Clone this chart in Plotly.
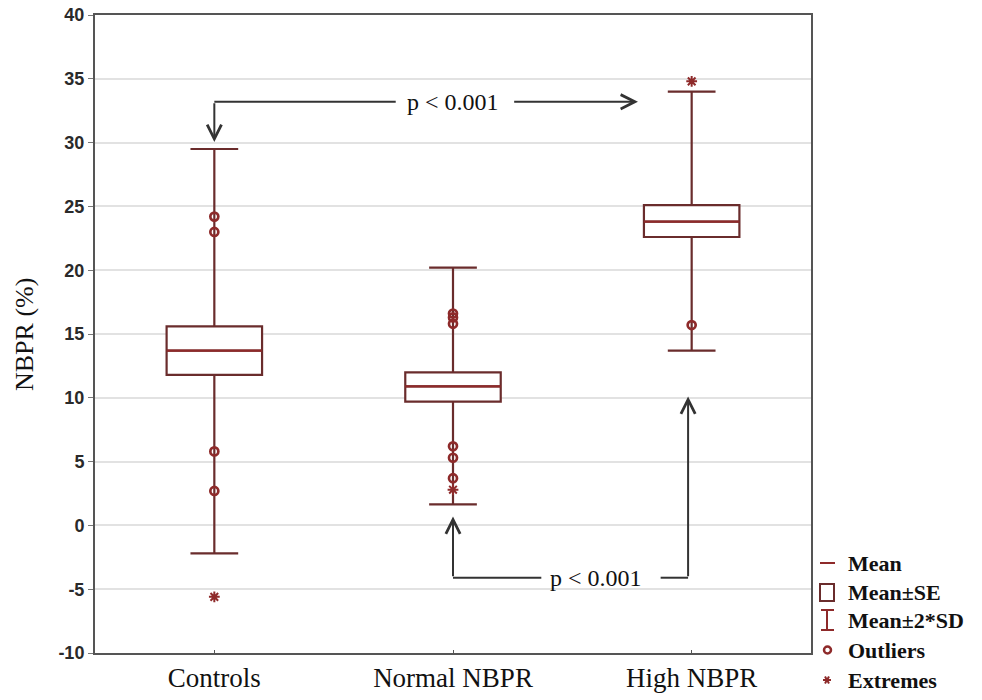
import plotly.graph_objects as go

# ---------------- data ----------------
categories = ["Controls", "Normal NBPR", "High NBPR"]
means = [13.7, 10.9, 23.8]
se_low = [11.8, 9.7, 22.6]
se_high = [15.6, 12.0, 25.1]
sd2_low = [-2.2, 1.65, 13.7]
sd2_high = [29.5, 20.2, 34.0]

outlier_x = ["Controls", "Controls", "Controls", "Controls",
             "Normal NBPR", "Normal NBPR", "Normal NBPR",
             "Normal NBPR", "Normal NBPR", "Normal NBPR",
             "High NBPR"]
outlier_y = [24.2, 23.0, 5.8, 2.7,
             16.6, 16.3, 15.8, 6.2, 5.3, 3.7,
             15.7]
extreme_x = ["Controls", "Normal NBPR", "High NBPR"]
extreme_y = [-5.6, 2.8, 34.8]

y_ticks = [-10, -5, 0, 5, 10, 15, 20, 25, 30, 35, 40]
y_title = "NBPR (%)"
p_label = "p < 0.001"

# ---------------- style ----------------
RED = "#8e2a2a"
BOX = "#6a2c2c"
ARROW = "#333333"
BOX_W = 0.4

# plot area in pixels (for legend placement)
L, R, T, B = 95, 811, 15, 653


def px(x):
    return (x - L) / (R - L)


def py(y):
    return (B - y) / (B - T)


idx = {c: i for i, c in enumerate(categories)}
cat_pos = [idx[c] for c in categories]

fig = go.Figure()

# box: mean +/- SE, whiskers mean +/- 2*SD with caps
fig.add_trace(go.Box(
    x=cat_pos, q1=se_low, median=means, q3=se_high,
    lowerfence=sd2_low, upperfence=sd2_high,
    width=BOX_W, whiskerwidth=0.5, boxpoints=False,
    fillcolor="white", line=dict(color=BOX, width=2.2),
    showlegend=False, hoverinfo="skip"))

# mean lines (red) across each box
mx, my = [], []
for i, m in zip(cat_pos, means):
    mx += [i - BOX_W / 2, i + BOX_W / 2, None]
    my += [m, m, None]
fig.add_trace(go.Scatter(x=mx, y=my, mode="lines",
                         line=dict(color=RED, width=2.2),
                         showlegend=False, hoverinfo="skip"))

# outliers
fig.add_trace(go.Scatter(
    x=[idx[c] for c in outlier_x], y=outlier_y, mode="markers",
    marker=dict(symbol="circle-open", size=8, color=RED,
                line=dict(width=2.7, color=RED)),
    showlegend=False, hoverinfo="skip"))

# extremes
fig.add_trace(go.Scatter(
    x=[idx[c] for c in extreme_x], y=extreme_y, mode="markers",
    marker=dict(symbol="asterisk-open", size=9, color=RED,
                line=dict(width=2, color=RED)),
    showlegend=False, hoverinfo="skip"))

shapes = []
annotations = []

# ---- y-axis title ----
annotations.append(dict(xref="paper", yref="paper", x=px(25), y=py(335),
                        text=y_title, textangle=-90, showarrow=False,
                        xanchor="center", yanchor="middle",
                        font=dict(family="Liberation Serif", size=26,
                                  color="#111")))

# ---- significance arrows ----
top_y = 33.2
bot_y = -4.1
font_p = dict(family="Liberation Serif", size=24, color="#111")
arrow_kw = dict(axref="x", ayref="y", text="", showarrow=True,
                arrowhead=5, arrowsize=1.4, arrowwidth=2,
                arrowcolor=ARROW, standoff=0)

# top bracket: Controls -> High NBPR
shapes.append(dict(type="line", xref="x", yref="y", x0=0.0, x1=0.76,
                   y0=top_y, y1=top_y, line=dict(color=ARROW, width=2)))
annotations.append(dict(xref="x", yref="y", x=0.0, y=30.05, ax=0.0, ay=top_y,
                        **arrow_kw))
annotations.append(dict(xref="x", yref="y", x=1.775, y=top_y, ax=1.25, ay=top_y,
                        **arrow_kw))
annotations.append(dict(xref="x", yref="y", x=1.0, y=top_y, text=p_label,
                        showarrow=False, font=font_p))

# bottom bracket: Normal NBPR <- High NBPR
annotations.append(dict(xref="x", yref="y", x=1.0, y=0.7, ax=1.0, ay=bot_y,
                        **arrow_kw))
shapes.append(dict(type="line", xref="x", yref="y", x0=1.0, x1=1.37,
                   y0=bot_y, y1=bot_y, line=dict(color=ARROW, width=2)))
shapes.append(dict(type="line", xref="x", yref="y", x0=1.87, x1=1.985,
                   y0=bot_y, y1=bot_y, line=dict(color=ARROW, width=2)))
annotations.append(dict(xref="x", yref="y", x=1.985, y=10.1, ax=1.985, ay=bot_y,
                        **arrow_kw))
annotations.append(dict(xref="x", yref="y", x=1.6, y=bot_y, text=p_label,
                        showarrow=False, font=font_p))

# ---- custom legend (outside plot, right-bottom) ----
leg_font = dict(family="Liberation Serif", size=22, color="#111", weight="bold")
leg_items = ["Mean", "Mean±SE", "Mean±2*SD", "Outliers", "Extremes"]
leg_rows = [563, 592, 620, 650, 680]
text_x = 846
for lab, yy in zip(leg_items, leg_rows):
    annotations.append(dict(xref="paper", yref="paper", x=px(text_x), y=py(yy),
                            xanchor="left", yanchor="middle", text=lab,
                            showarrow=False, font=leg_font))
# Mean symbol
shapes.append(dict(type="line", xref="paper", yref="paper",
                   x0=px(820), x1=px(835), y0=py(563), y1=py(563),
                   line=dict(color=RED, width=2)))
# Mean±SE symbol
shapes.append(dict(type="rect", xref="paper", yref="paper",
                   x0=px(820), x1=px(834), y0=py(584), y1=py(601),
                   line=dict(color=BOX, width=2)))
# Mean±2*SD symbol
shapes.append(dict(type="line", xref="paper", yref="paper",
                   x0=px(827), x1=px(827), y0=py(610), y1=py(630),
                   line=dict(color=RED, width=2)))
shapes.append(dict(type="line", xref="paper", yref="paper",
                   x0=px(821), x1=px(834), y0=py(610), y1=py(610),
                   line=dict(color=RED, width=2)))
shapes.append(dict(type="line", xref="paper", yref="paper",
                   x0=px(821), x1=px(834), y0=py(630), y1=py(630),
                   line=dict(color=RED, width=2)))
# Outliers symbol
shapes.append(dict(type="circle", xref="paper", yref="paper",
                   x0=px(824), x1=px(831), y0=py(646.5), y1=py(653.5),
                   line=dict(color=RED, width=2.5)))
# Extremes symbol (asterisk)
for (x0, y0, x1, y1) in [(823, 680, 831, 680), (825, 676.5, 829, 683.5),
                         (825, 683.5, 829, 676.5)]:
    shapes.append(dict(type="line", xref="paper", yref="paper",
                       x0=px(x0), x1=px(x1), y0=py(y0), y1=py(y1),
                       line=dict(color=RED, width=2)))

fig.update_layout(
    width=982, height=700,
    margin=dict(l=L, r=982 - R, t=T, b=700 - B, autoexpand=False),
    paper_bgcolor="white", plot_bgcolor="white",
    showlegend=False,
    shapes=shapes, annotations=annotations,
    xaxis=dict(
        type="linear", range=[-0.5, 2.5], automargin=False,
        tickmode="array", tickvals=cat_pos, ticktext=categories,
        tickfont=dict(family="Liberation Serif", size=27, color="#111"),
        showgrid=False, zeroline=False,
        showline=True, mirror=True, linecolor="#555", linewidth=2,
        ticks="inside", ticklen=3, tickcolor="#555",
    ),
    yaxis=dict(
        range=[-10, 40], tickmode="array", tickvals=y_ticks, automargin=False,
        ticktext=[str(v) for v in y_ticks],
        tickfont=dict(family="Liberation Sans", size=18, color="#2a2a2a",
                      weight="bold"),
        showgrid=True, gridcolor="#e2e2e2", gridwidth=1.5,
        zeroline=False,
        showline=True, mirror=True, linecolor="#555", linewidth=2,
        ticks="outside", ticklen=5, tickcolor="#777",
    ),
)

fig.write_html("out.html")
